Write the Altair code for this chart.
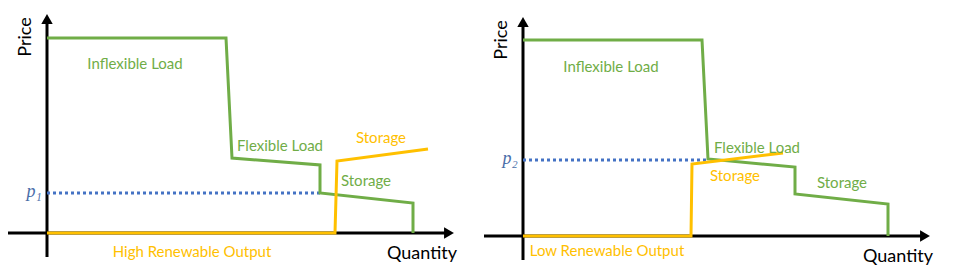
import altair as alt
import pandas as pd

# ---------- data (arbitrary units) ----------
# Left panel: high renewable output
hi_green_q = [0, 179, 185, 273, 273, 366, 366]
hi_green_p = [195, 195, 75, 68, 40, 30, 0]
hi_yellow_q = [0, 288, 290, 381]
hi_yellow_p = [0, 0, 72, 84]
hi_price = 40
hi_price_end = 273

# Right panel: low renewable output
lo_green_q = [0, 179, 185, 272, 272, 365, 365]
lo_green_p = [196, 196, 77, 69, 42, 32, 0]
lo_yellow_q = [0, 168, 169, 260]
lo_yellow_p = [0, 0, 72, 83]
lo_price = 76
lo_price_end = 185

hi_labels = ["Inflexible Load", "Flexible Load", "Storage", "Storage", "High Renewable Output"]
hi_label_q = [88, 233, 334, 319, 145]
hi_label_p = [169, 87, 95, 52, -19]
hi_label_c = ["green", "green", "gold", "green", "gold"]

lo_labels = ["Inflexible Load", "Flexible Load", "Storage", "Storage", "Low Renewable Output"]
lo_label_q = [88, 234, 212, 319, 84]
lo_label_p = [169, 88, 60, 53, -15]
lo_label_c = ["green", "green", "gold", "green", "gold"]

GREEN = "#70AD47"
GOLD = "#FFC000"
BLUE = "#4472C4"
FONT = "Lato"


def panel(gq, gp, yq, yp, price, price_end, labels, lq, lp, lc, ptext,
          xdom, ydom, width, height):
    xs = alt.Scale(domain=xdom, nice=False, zero=False)
    ys = alt.Scale(domain=ydom, nice=False, zero=False)
    X = lambda f: alt.X(f, type="quantitative", scale=xs, axis=None)
    Y = lambda f: alt.Y(f, type="quantitative", scale=ys, axis=None)

    xaxis = pd.DataFrame({"q": [-39], "q2": [402], "p": [0]})
    yaxis = pd.DataFrame({"q": [0], "p": [-24], "p2": [214]})
    xarrow = pd.DataFrame({"q": [402], "p": [0]})
    yarrow = pd.DataFrame({"q": [0], "p": [214]})

    ax1 = alt.Chart(xaxis).mark_rule(color="black", strokeWidth=3).encode(
        x=X("q"), x2="q2", y=Y("p"))
    ax2 = alt.Chart(yaxis).mark_rule(color="black", strokeWidth=3).encode(
        x=X("q"), y=Y("p"), y2="p2")
    ar1 = alt.Chart(xarrow).mark_point(shape="triangle-right", filled=True, size=130,
                                       color="black", opacity=1).encode(x=X("q"), y=Y("p"))
    ar2 = alt.Chart(yarrow).mark_point(shape="triangle-up", filled=True, size=130,
                                       color="black", opacity=1).encode(x=X("q"), y=Y("p"))

    pdf = pd.DataFrame({"q": [0], "q2": [price_end], "p": [price]})
    dotted = alt.Chart(pdf).mark_rule(color=BLUE, strokeWidth=3, strokeDash=[3, 3]).encode(
        x=X("q"), x2="q2", y=Y("p"))

    gdf = pd.DataFrame({"q": gq, "p": gp, "i": list(range(len(gq)))})
    ydf = pd.DataFrame({"q": yq, "p": yp, "i": list(range(len(yq)))})
    green = alt.Chart(gdf).mark_line(color=GREEN, strokeWidth=3, strokeJoin="miter").encode(
        x=X("q"), y=Y("p"), order="i:Q")
    yellow = alt.Chart(ydf).mark_line(color=GOLD, strokeWidth=3, strokeJoin="miter").encode(
        x=X("q"), y=Y("p"), order="i:Q")

    ldf = pd.DataFrame({"t": labels, "q": lq, "p": lp, "c": lc})
    txt = alt.Chart(ldf).mark_text(font=FONT, fontSize=15, align="center", baseline="middle").encode(
        x=X("q"), y=Y("p"), text="t:N",
        color=alt.Color("c:N", scale=alt.Scale(domain=["green", "gold"], range=[GREEN, GOLD]),
                        legend=None))

    qdf = pd.DataFrame({"t": ["Quantity"], "q": [375], "p": [-21]})
    qtxt = alt.Chart(qdf).mark_text(font=FONT, fontSize=18, color="black").encode(
        x=X("q"), y=Y("p"), text="t:N")
    prdf = pd.DataFrame({"t": ["Price"], "q": [-21], "p": [196]})
    prtxt = alt.Chart(prdf).mark_text(font=FONT, fontSize=18, color="black", angle=270).encode(
        x=X("q"), y=Y("p"), text="t:N")
    pldf = pd.DataFrame({"t": [ptext], "q": [-13], "p": [price + 1]})
    pltxt = alt.Chart(pldf).mark_text(font="Liberation Serif", fontSize=18, fontStyle="italic",
                                      color="#4A6EA9").encode(x=X("q"), y=Y("p"), text="t:N")

    return alt.layer(ax1, ax2, ar1, ar2, dotted, green, yellow, txt, qtxt, prtxt, pltxt).properties(
        width=width, height=height)


left = panel(hi_green_q, hi_green_p, hi_yellow_q, hi_yellow_p, hi_price, hi_price_end,
             hi_labels, hi_label_q, hi_label_p, hi_label_c, "p\u2081",
             [-47, 433], [-46, 233], 480, 279)
right = panel(lo_green_q, lo_green_p, lo_yellow_q, lo_yellow_p, lo_price, lo_price_end,
              lo_labels, lo_label_q, lo_label_p, lo_label_c, "p\u2082",
              [-43, 436], [-43, 236], 479, 279)

chart = alt.hconcat(left, right, spacing=0).properties(padding=0).configure_view(stroke=None)

chart.save("out.html", embed_options={"renderer": "svg", "actions": False})
